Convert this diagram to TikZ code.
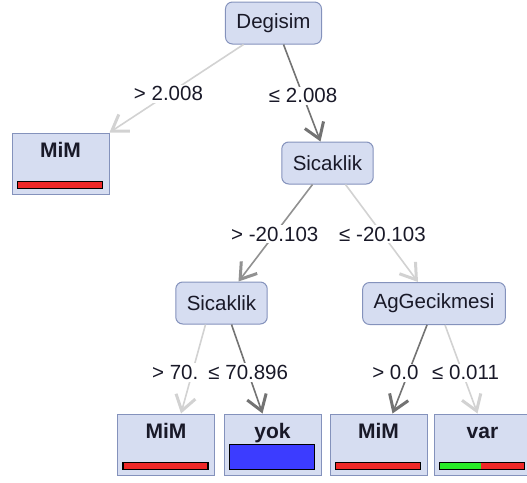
\documentclass[tikz,border=0pt]{standalone}
\usepackage{fontspec}
\setmainfont{Liberation Sans}
\usetikzlibrary{arrows.meta,calc,positioning}
\definecolor{nodefill}{RGB}{214,221,241}
\definecolor{nodeline}{RGB}{132,146,188}
\definecolor{textdark}{RGB}{25,25,40}
\definecolor{darkedge}{RGB}{115,115,115}
\definecolor{midedge}{RGB}{145,145,145}
\definecolor{lightedge}{RGB}{210,210,210}
\definecolor{barred}{RGB}{238,40,40}
\definecolor{barblue}{RGB}{60,60,255}
\definecolor{bargreen}{RGB}{40,235,40}
\tikzset{
  splitnode/.style={draw=nodeline, fill=nodefill, rounded corners=7pt, line width=1pt,
    minimum height=42pt, inner xsep=11pt, text=textdark, font=\fontsize{20.5}{24}\selectfont},
  leafnode/.style={draw=nodeline, fill=nodefill, line width=1pt, minimum width=97pt,
    minimum height=61pt, inner ysep=4pt, text height=20pt, text depth=33pt,
    text=textdark, font=\bfseries\fontsize{21}{24}\selectfont},
  cond/.style={fill=white, inner sep=2pt, text=textdark, font=\fontsize{20.5}{24}\selectfont},
  bigbarb/.style={-{Straight Barb[length=15pt,width=20pt,line width=3pt]}},
  heavyedge/.style={draw=darkedge, line width=1.6pt, bigbarb},
  midedge/.style={draw=midedge, line width=1.6pt, bigbarb},
  weakedge/.style={draw=lightedge, line width=1.6pt, bigbarb},
  classbar/.style={draw=black, line width=1.2pt},
}

\begin{document}
\begin{tikzpicture}[x=1pt,y=1pt,yscale=-1,xscale=1]
		\useasboundingbox (0,0) rectangle (527,482);
		
		% Text Node
		\node [splitnode] (degisim) at (273.5,23) {Degisim};
		% Text Node
		\node [splitnode] (sicaklik) at (327.5,163) {Sicaklik};
		% Text Node
		\node [splitnode] (sicaklikB) at (221.5,303) {Sicaklik};
		% Text Node
		\node [splitnode] (aggecikmesi) at (434,303.5) {AgGecikmesi};
		
		% Leaf Node
		\node [leafnode] (mimA) at (60.5,163.5) {MiM};
		\draw [classbar, fill=barred] ($(mimA.south west)+(6,-6)$) rectangle ($(mimA.south east)+(-7,-13)$);
		% Leaf Node
		\node [leafnode] (mimB) at (166,444.5) {MiM};
		\draw [classbar, fill=barred] ($(mimB.south west)+(6,-6)$) rectangle ($(mimB.south east)+(-7,-13)$);
		% Leaf Node
		\node [leafnode] (yok) at (272.5,444.5) {yok};
		\draw [classbar, fill=barblue] ($(yok.south west)+(6,-6)$) rectangle ($(yok.south east)+(-7,-31)$);
		% Leaf Node
		\node [leafnode] (mimC) at (378.5,444.5) {MiM};
		\draw [classbar, fill=barred] ($(mimC.south west)+(6,-6)$) rectangle ($(mimC.south east)+(-7,-13)$);
		% Leaf Node
		\node [leafnode] (var) at (482.5,444.5) {var};
		\draw [classbar, fill=barred] ($(var.south west)+(6,-6)$) rectangle ($(var.south east)+(-7,-13)$);
		\fill [bargreen] ($(var.south west)+(6.6,-6.6)$) rectangle ($(var.south west)+(47,-12.4)$);
		\draw [classbar] ($(var.south west)+(6,-6)$) rectangle ($(var.south east)+(-7,-13)$);
		
		% Connection
		\draw [weakedge] ([xshift=-30pt]degisim.south) -- (mimA.north east) node [cond, pos=0.56] {> 2.008};
		% Connection
		\draw [heavyedge] ([xshift=10pt]degisim.south) -- ([xshift=-7pt]sicaklik.north) node [cond, pos=0.53] {≤ 2.008};
		% Connection
		\draw [midedge] ([xshift=-15pt]sicaklik.south) -- ([xshift=17pt]sicaklikB.north) node [cond, pos=0.51] {> -20.103};
		% Connection
		\draw [weakedge] ([xshift=18pt]sicaklik.south) -- ([xshift=-16pt]aggecikmesi.north) node [cond, pos=0.51] {≤ -20.103};
		% Connection (label cut off by its neighbour)
		\draw [weakedge] ([xshift=-16pt]sicaklikB.south) -- ([xshift=15pt]mimB.north) node [cond, pos=0.54, xshift=-17pt] {> 70.};
		% Connection
		\draw [heavyedge] ([xshift=10pt]sicaklikB.south) -- ([xshift=-10pt]yok.north) node [cond, pos=0.54] {≤ 70.896};
		% Connection (label cut off by its neighbour)
		\draw [heavyedge] ([xshift=-7pt]aggecikmesi.south) -- ([xshift=14pt]mimC.north) node [cond, pos=0.54, xshift=-13pt] {> 0.0};
		% Connection
		\draw [weakedge] ([xshift=11pt]aggecikmesi.south) -- ([xshift=-5pt]var.north) node [cond, pos=0.54, xshift=3pt] {≤ 0.011};
		
\end{tikzpicture}
\end{document}
